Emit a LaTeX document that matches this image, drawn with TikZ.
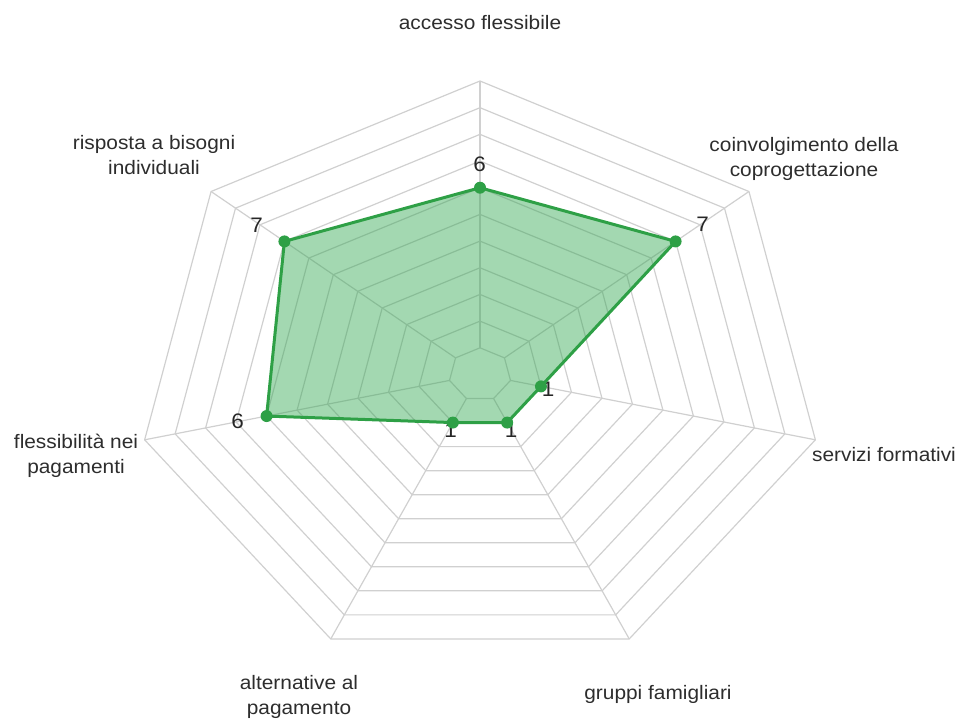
\documentclass[tikz,border=0pt]{standalone}
\usepackage{fontspec}
\setmainfont{Liberation Sans}[FakeStretch=1.07]
\definecolor{gridgray}{RGB}{208,208,208}
\definecolor{series}{RGB}{46,160,70}
\definecolor{seriesfill}{RGB}{52,168,83}
\definecolor{labeltext}{RGB}{45,45,45}
\begin{document}
\begin{tikzpicture}[x=1pt,y=-1pt,
  gridline/.style={draw=gridgray, line width=1.2pt, line join=round},
  dot/.style={circle, fill=series, minimum size=12pt, inner sep=0pt},
  axislabel/.style={anchor=north, align=center, inner sep=0pt, text=labeltext, font=\fontsize{19.5}{25}\selectfont},
  vallabel/.style={anchor=center, inner sep=0pt, text=black!85, font=\fontsize{21}{25}\selectfont}]
\useasboundingbox (0,0) rectangle (963,719);
\begin{scope}[shift={(480,374.5)}, x=344pt, y=293.5pt]
  % rings
  \foreach \v in {0,...,10} {
    \pgfmathsetmacro\rr{(\v+1)/11}
    \draw[gridline] (90:\rr) \foreach \k in {1,...,6} { -- ({90-\k*360/7}:\rr) } -- cycle;
  }
  % spokes
  \pgfmathsetmacro\rin{1/11}
  \foreach \k in {0,...,6} \draw[gridline] ({90-\k*360/7}:\rin) -- ({90-\k*360/7}:1);
  % data points
  \foreach \k/\val in {0/6,1/7,2/1,3/1,4/1,5/6,6/7} {
    \pgfmathsetmacro\rr{(\val+1)/11}
    \coordinate (p\k) at ({90-\k*360/7}:\rr);
  }
\end{scope}
% value labels
\node[vallabel] (v0) at (479.5,164) {6};
\node[vallabel] (v1) at (702.5,224) {7};
\node[vallabel] (v2) at (548,389.5) {1};
\node[vallabel] (v3) at (511,430) {1};
\node[vallabel] (v4) at (450.5,430) {1};
\node[vallabel] (v5) at (237.5,421.7) {6};
\node[vallabel] (v6) at (256.7,225) {7};
% series polygon
\filldraw[fill=seriesfill, fill opacity=0.45, draw=series, line width=3pt, line join=round]
  (p0) -- (p1) -- (p2) -- (p3) -- (p4) -- (p5) -- (p6) -- cycle;
\foreach \k in {0,...,6} \node[dot] (m\k) at (p\k) {};
% axis labels
\node[axislabel] (l0) at (480,15) {accesso flessibile};
\node[axislabel] (l1) at (804,137) {coinvolgimento della\\coprogettazione};
\node[axislabel] (l2) at (884,447) {servizi formativi};
\node[axislabel] (l3) at (658,685) {gruppi famigliari};
\node[axislabel] (l4) at (299,675) {alternative al\\pagamento};
\node[axislabel] (l5) at (76,434) {flessibilità nei\\pagamenti};
\node[axislabel] (l6) at (154,135) {risposta a bisogni\\individuali};
\end{tikzpicture}
\end{document}
